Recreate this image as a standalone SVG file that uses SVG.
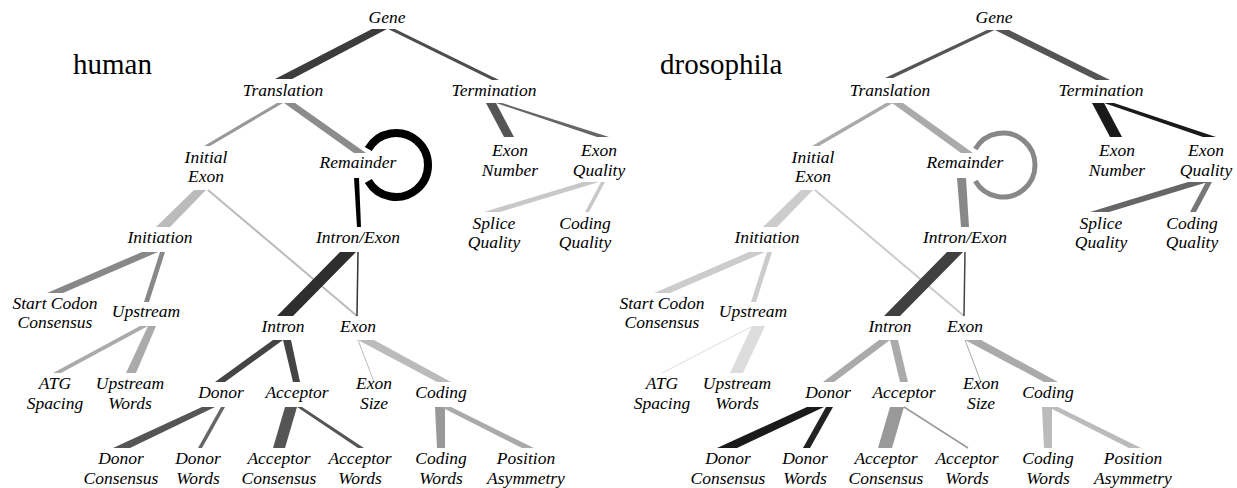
<svg xmlns="http://www.w3.org/2000/svg" width="1237" height="488" viewBox="0 0 1237 488">
<style>
text{font-family:"Liberation Serif","Times New Roman",serif;}
.n{font-size:17.5px;font-style:italic;text-anchor:middle;fill:#000;}
.t{font-size:29px;fill:#000;}
.ln{fill:none;}
</style>
<rect width="1237" height="488" fill="#fff"/>
<g id="connectors">
 <g id="human-edges">
  <polygon points="372,29 387,29 292,79 275,79" fill="#3c3c3c"/>
  <polygon points="388,29 395,29 499,80 492,80" fill="#4d4d4d"/>
  <polygon points="277,103 283,103 210,146 204,146" fill="#999"/>
  <polygon points="284,103 295,103 366,153 354,153" fill="#8c8c8c"/>
  <path d="M368.3,149 A32,32 0 1,1 368.3,181" class="ln" stroke="#000" stroke-width="8"/>
  <polygon points="486,103 496,103 514,137 504,137" fill="#555"/>
  <polygon points="496,103 502,103 609,137 597,137" fill="#666"/>
  <polygon points="194,190 206,190 170,227 156,227" fill="#bbb"/>
  <line x1="208" y1="190" x2="357" y2="316" stroke="#bbb" stroke-width="2"/>
  <polygon points="354,178 359,178 361,227 357,227" fill="#000"/>
  <polygon points="583,182 599,182 500,212 484,212" fill="#c8c8c8"/>
  <polygon points="601,182 605,182 589,212 585,212" fill="#c8c8c8"/>
  <polygon points="142,252 158,252 63,293 47,293" fill="#888"/>
  <polygon points="160,252 165,252 149,302 144,302" fill="#888"/>
  <polygon points="340,252 356,252 293,316 277,316" fill="#2e2e2e"/>
  <line x1="358" y1="252" x2="357" y2="316" stroke="#333" stroke-width="1.5"/>
  <polygon points="140,326 148,326 61,373 53,373" fill="#aaa"/>
  <polygon points="148,326 156,326 136,373 126,373" fill="#aaa"/>
  <polygon points="273,340 283,340 225,382 215,382" fill="#444"/>
  <polygon points="283,340 291,340 300,382 293,382" fill="#444"/>
  <line x1="358" y1="340" x2="374" y2="382" stroke="#bbb" stroke-width="1"/>
  <polygon points="358,340 374,340 451,382 437,382" fill="#bbb"/>
  <polygon points="202,407 215,407 130,448 113,448" fill="#555"/>
  <polygon points="221,407 225,407 202,448 198,448" fill="#666"/>
  <polygon points="285,407 297,407 285,448 273,448" fill="#555"/>
  <polygon points="297,407 302,407 364,448 358,448" fill="#555"/>
  <polygon points="435,407 445,407 445,448 437,448" fill="#999"/>
  <polygon points="441,407 451,407 534,448 522,448" fill="#aaa"/>
 </g>
 <g id="drosophila-edges">
  <polygon points="987,30 994.5,30 893,78 885,78" fill="#555"/>
  <polygon points="995,30 1009,30 1110,80 1096,80" fill="#555"/>
  <polygon points="886,103 893,103 819,146 812,146" fill="#aaa"/>
  <polygon points="892,103 903,103 973,153 961,153" fill="#aaa"/>
  <path d="M975.3,149 A32,32 0 1,1 975.3,181" class="ln" stroke="#888" stroke-width="5"/>
  <polygon points="1092,103 1104,103 1122,137 1110,137" fill="#1a1a1a"/>
  <polygon points="1104,103 1114,103 1216,137 1203,137" fill="#1a1a1a"/>
  <polygon points="801,190 813,190 777,227 763,227" fill="#ccc"/>
  <line x1="815" y1="190" x2="964" y2="316" stroke="#ccc" stroke-width="2"/>
  <polygon points="957,178 966,178 969,227 961,227" fill="#888"/>
  <polygon points="1188,182 1208,182 1109,212 1090,212" fill="#666"/>
  <polygon points="1206,182 1212,182 1196,212 1190,212" fill="#777"/>
  <polygon points="749,252 765,252 670,293 654,293" fill="#ccc"/>
  <polygon points="767,252 772,252 756,302 751,302" fill="#ccc"/>
  <polygon points="947,252 963,252 900,316 884,316" fill="#404040"/>
  <line x1="965" y1="252" x2="964" y2="316" stroke="#444" stroke-width="1.5"/>
  <line x1="751" y1="327" x2="662" y2="373" stroke="#ddd" stroke-width="1"/>
  <polygon points="752,326 765,326 743,373 730,373" fill="#ddd"/>
  <polygon points="879,340 890,340 834,382 823,382" fill="#aaa"/>
  <polygon points="890,340 898,340 908,382 900,382" fill="#aaa"/>
  <line x1="965" y1="340" x2="981" y2="382" stroke="#aaa" stroke-width="1"/>
  <polygon points="965,340 981,340 1058,382 1044,382" fill="#aaa"/>
  <polygon points="807,407 824,407 737,448 717,448" fill="#1a1a1a"/>
  <polygon points="826,407 833,407 810,448 803,448" fill="#222"/>
  <polygon points="890,407 904,407 892,448 878,448" fill="#999"/>
  <line x1="904" y1="407" x2="968" y2="448" stroke="#999" stroke-width="1.5"/>
  <polygon points="1042,407 1052,407 1052,448 1044,448" fill="#bbb"/>
  <polygon points="1048,407 1058,407 1141,448 1129,448" fill="#bbb"/>
 </g>
</g>
<text class="t" x="73" y="74">human</text>
<text class="t" x="660" y="74">drosophila</text>
<g id="human-tree">
 <g id="h-gene"><text class="n" x="387" y="23">Gene</text></g>
 <g id="h-translation"><text class="n" x="283" y="96">Translation</text></g>
 <g id="h-termination"><text class="n" x="494" y="96">Termination</text></g>
 <g id="h-initial-exon"><text class="n" x="206" y="162.5">Initial</text><text class="n" x="206" y="182">Exon</text></g>
 <g id="h-remainder"><text class="n" x="358" y="168">Remainder</text></g>
 <g id="h-exon-number"><text class="n" x="510" y="156">Exon</text><text class="n" x="510" y="175.5">Number</text></g>
 <g id="h-exon-quality"><text class="n" x="599" y="156">Exon</text><text class="n" x="599" y="175.5">Quality</text></g>
 <g id="h-splice-quality"><text class="n" x="494" y="228.5">Splice</text><text class="n" x="494" y="248">Quality</text></g>
 <g id="h-coding-quality"><text class="n" x="585" y="228.5">Coding</text><text class="n" x="585" y="248">Quality</text></g>
 <g id="h-initiation"><text class="n" x="160" y="243">Initiation</text></g>
 <g id="h-intron-exon"><text class="n" x="358" y="243">Intron/Exon</text></g>
 <g id="h-start-codon"><text class="n" x="55" y="308.5">Start Codon</text><text class="n" x="55" y="328">Consensus</text></g>
 <g id="h-upstream"><text class="n" x="146" y="317">Upstream</text></g>
 <g id="h-intron"><text class="n" x="283" y="332">Intron</text></g>
 <g id="h-exon"><text class="n" x="358" y="332">Exon</text></g>
 <g id="h-atg-spacing"><text class="n" x="55" y="389">ATG</text><text class="n" x="55" y="408.5">Spacing</text></g>
 <g id="h-upstream-words"><text class="n" x="130" y="389">Upstream</text><text class="n" x="130" y="408.5">Words</text></g>
 <g id="h-donor"><text class="n" x="221" y="398">Donor</text></g>
 <g id="h-acceptor"><text class="n" x="297" y="398">Acceptor</text></g>
 <g id="h-exon-size"><text class="n" x="374" y="389">Exon</text><text class="n" x="374" y="408.5">Size</text></g>
 <g id="h-coding"><text class="n" x="441" y="398">Coding</text></g>
 <g id="h-donor-consensus"><text class="n" x="121" y="464">Donor</text><text class="n" x="121" y="483.5">Consensus</text></g>
 <g id="h-donor-words"><text class="n" x="198" y="464">Donor</text><text class="n" x="198" y="483.5">Words</text></g>
 <g id="h-acceptor-consensus"><text class="n" x="279" y="464">Acceptor</text><text class="n" x="279" y="483.5">Consensus</text></g>
 <g id="h-acceptor-words"><text class="n" x="360" y="464">Acceptor</text><text class="n" x="360" y="483.5">Words</text></g>
 <g id="h-coding-words"><text class="n" x="441" y="464">Coding</text><text class="n" x="441" y="483.5">Words</text></g>
 <g id="h-position-asymmetry"><text class="n" x="526" y="464">Position</text><text class="n" x="526" y="483.5">Asymmetry</text></g>
</g>
<g id="drosophila-tree" transform="translate(607,0)">
 <g id="d-gene"><text class="n" x="387" y="23">Gene</text></g>
 <g id="d-translation"><text class="n" x="283" y="96">Translation</text></g>
 <g id="d-termination"><text class="n" x="494" y="96">Termination</text></g>
 <g id="d-initial-exon"><text class="n" x="206" y="162.5">Initial</text><text class="n" x="206" y="182">Exon</text></g>
 <g id="d-remainder"><text class="n" x="358" y="168">Remainder</text></g>
 <g id="d-exon-number"><text class="n" x="510" y="156">Exon</text><text class="n" x="510" y="175.5">Number</text></g>
 <g id="d-exon-quality"><text class="n" x="599" y="156">Exon</text><text class="n" x="599" y="175.5">Quality</text></g>
 <g id="d-splice-quality"><text class="n" x="494" y="228.5">Splice</text><text class="n" x="494" y="248">Quality</text></g>
 <g id="d-coding-quality"><text class="n" x="585" y="228.5">Coding</text><text class="n" x="585" y="248">Quality</text></g>
 <g id="d-initiation"><text class="n" x="160" y="243">Initiation</text></g>
 <g id="d-intron-exon"><text class="n" x="358" y="243">Intron/Exon</text></g>
 <g id="d-start-codon"><text class="n" x="55" y="308.5">Start Codon</text><text class="n" x="55" y="328">Consensus</text></g>
 <g id="d-upstream"><text class="n" x="146" y="317">Upstream</text></g>
 <g id="d-intron"><text class="n" x="283" y="332">Intron</text></g>
 <g id="d-exon"><text class="n" x="358" y="332">Exon</text></g>
 <g id="d-atg-spacing"><text class="n" x="55" y="389">ATG</text><text class="n" x="55" y="408.5">Spacing</text></g>
 <g id="d-upstream-words"><text class="n" x="130" y="389">Upstream</text><text class="n" x="130" y="408.5">Words</text></g>
 <g id="d-donor"><text class="n" x="221" y="398">Donor</text></g>
 <g id="d-acceptor"><text class="n" x="297" y="398">Acceptor</text></g>
 <g id="d-exon-size"><text class="n" x="374" y="389">Exon</text><text class="n" x="374" y="408.5">Size</text></g>
 <g id="d-coding"><text class="n" x="441" y="398">Coding</text></g>
 <g id="d-donor-consensus"><text class="n" x="121" y="464">Donor</text><text class="n" x="121" y="483.5">Consensus</text></g>
 <g id="d-donor-words"><text class="n" x="198" y="464">Donor</text><text class="n" x="198" y="483.5">Words</text></g>
 <g id="d-acceptor-consensus"><text class="n" x="279" y="464">Acceptor</text><text class="n" x="279" y="483.5">Consensus</text></g>
 <g id="d-acceptor-words"><text class="n" x="360" y="464">Acceptor</text><text class="n" x="360" y="483.5">Words</text></g>
 <g id="d-coding-words"><text class="n" x="441" y="464">Coding</text><text class="n" x="441" y="483.5">Words</text></g>
 <g id="d-position-asymmetry"><text class="n" x="526" y="464">Position</text><text class="n" x="526" y="483.5">Asymmetry</text></g>
</g>
</svg>
